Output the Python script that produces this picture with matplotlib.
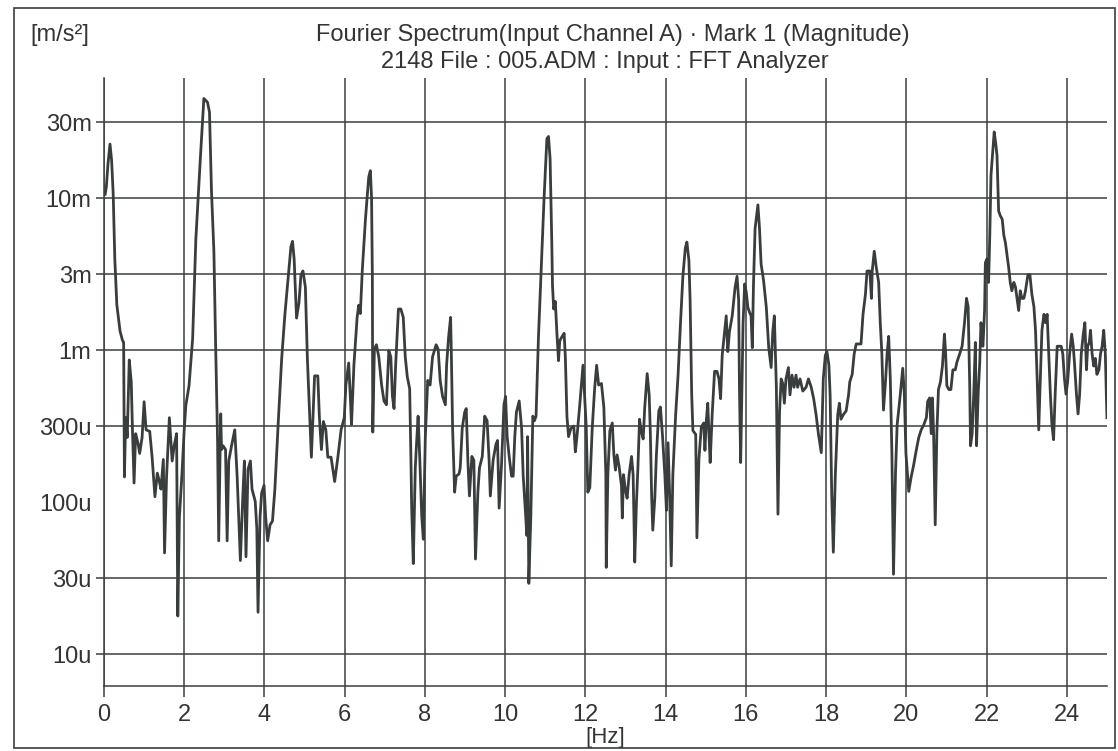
import numpy as np
import matplotlib
matplotlib.use("Agg")
import matplotlib.pyplot as plt
from matplotlib.ticker import NullLocator
from matplotlib.patches import Rectangle

# Fourier spectrum magnitude, level in dB re 1 um/s^2
freq_hz = [
    0.03, 0.06, 0.10, 0.15, 0.19, 0.23, 0.27, 0.32, 0.40, 0.46, 0.49, 0.51, 0.54, 0.58, 0.63,
    0.68, 0.71, 0.75, 0.79, 0.85, 0.89, 0.95, 1.00, 1.05, 1.14, 1.20, 1.27, 1.33, 1.38, 1.42,
    1.48, 1.51, 1.56, 1.63, 1.70, 1.75, 1.81, 1.84, 1.88, 1.94, 2.00, 2.04, 2.12, 2.21, 2.29,
    2.40, 2.49, 2.58, 2.63, 2.68, 2.74, 2.78, 2.83, 2.86, 2.91, 2.93, 2.97, 3.03, 3.07, 3.11,
    3.18, 3.26, 3.32, 3.40, 3.46, 3.50, 3.54, 3.59, 3.65, 3.69, 3.77, 3.81, 3.84, 3.89, 3.93,
    3.99, 4.03, 4.08, 4.14, 4.20, 4.26, 4.35, 4.43, 4.51, 4.59, 4.66, 4.70, 4.74, 4.80, 4.86,
    4.91, 4.96, 5.02, 5.07, 5.13, 5.17, 5.21, 5.25, 5.33, 5.37, 5.42, 5.47, 5.53, 5.58, 5.66,
    5.75, 5.83, 5.91, 5.99,
    6.03, 6.10, 6.14, 6.17, 6.23, 6.31, 6.35, 6.39, 6.44, 6.52, 6.60, 6.64, 6.67, 6.69, 6.70,
    6.74, 6.79, 6.85, 6.92, 6.98, 7.04, 7.10, 7.15, 7.19, 7.23, 7.27, 7.34, 7.40, 7.46, 7.51,
    7.56, 7.62, 7.65, 7.67, 7.71, 7.76, 7.79, 7.83, 7.87, 7.92, 7.96, 8.01, 8.07, 8.13, 8.19,
    8.28, 8.33, 8.38, 8.44, 8.51, 8.54, 8.59, 8.64, 8.66, 8.69, 8.74, 8.78, 8.85, 8.88, 8.93,
    8.99, 9.03, 9.07, 9.11, 9.17, 9.22, 9.26, 9.32, 9.36, 9.43, 9.49, 9.55, 9.60, 9.63, 9.70,
    9.77, 9.81, 9.85, 9.91, 9.97, 10.01, 10.05, 10.10, 10.16, 10.20, 10.24, 10.28, 10.35, 10.41, 10.45,
    10.50, 10.54, 10.56, 10.59, 10.64, 10.69, 10.73, 10.77, 10.83, 10.91, 10.97, 11.04, 11.08, 11.12, 11.16,
    11.18, 11.21, 11.25, 11.29, 11.33, 11.36, 11.41, 11.47, 11.50, 11.54, 11.58, 11.64, 11.71, 11.75, 11.79,
    11.86, 11.94, 11.97, 12.02, 12.06, 12.11, 12.17, 12.23, 12.28, 12.33,
    12.40, 12.46, 12.51, 12.52, 12.56, 12.61, 12.67, 12.71, 12.75, 12.79, 12.84, 12.90, 12.92, 12.95, 13.00,
    13.04, 13.09, 13.15, 13.19, 13.23, 13.27, 13.31, 13.35, 13.39, 13.44, 13.48, 13.54, 13.59, 13.62, 13.65,
    13.68, 13.73, 13.77, 13.83, 13.87, 13.92, 13.98, 14.02, 14.06, 14.10, 14.14, 14.18, 14.25, 14.31, 14.37,
    14.43, 14.49, 14.53, 14.58, 14.61, 14.65, 14.68, 14.75, 14.78, 14.83, 14.89, 14.95, 14.98, 15.01, 15.05,
    15.08, 15.11, 15.16, 15.22, 15.28, 15.33, 15.37, 15.41, 15.47, 15.51, 15.55, 15.59, 15.66, 15.73, 15.78,
    15.82, 15.84, 15.87, 15.90, 15.93, 15.97, 16.01, 16.05, 16.09, 16.13, 16.16, 16.19, 16.23, 16.30, 16.34,
    16.38, 16.44, 16.51, 16.57, 16.63, 16.67, 16.71, 16.76, 16.80, 16.84, 16.88, 16.92, 16.96, 17.00, 17.06,
    17.10, 17.15, 17.20, 17.25, 17.29, 17.35, 17.42, 17.50, 17.56, 17.63, 17.69, 17.75, 17.81, 17.88, 17.93,
    17.98, 18.02, 18.07, 18.10, 18.14, 18.18, 18.23, 18.29, 18.33, 18.37, 18.43, 18.50, 18.56,
    18.59, 18.65, 18.70, 18.75, 18.81, 18.87, 18.92, 18.98, 19.02, 19.09, 19.13, 19.15, 19.20, 19.25, 19.31,
    19.35, 19.39, 19.43, 19.48, 19.52, 19.56, 19.60, 19.64, 19.68, 19.73, 19.77, 19.81, 19.85, 19.91, 19.95,
    19.99, 20.06, 20.12, 20.18, 20.25, 20.31, 20.37, 20.43, 20.50, 20.53, 20.58, 20.62, 20.65, 20.68, 20.72,
    20.76, 20.80, 20.85, 20.90, 20.95, 20.98, 21.01, 21.06, 21.11, 21.16, 21.22, 21.26, 21.33, 21.39, 21.45,
    21.50, 21.54, 21.58, 21.60, 21.64, 21.68, 21.72, 21.75, 21.79, 21.83, 21.86, 21.91, 21.95, 21.97, 22.01,
    22.05, 22.08, 22.11, 22.16, 22.19, 22.23, 22.26, 22.30, 22.34, 22.39, 22.43, 22.47, 22.51, 22.55, 22.59,
    22.63, 22.68, 22.72, 22.76, 22.80, 22.84, 22.88, 22.93, 22.97, 23.03, 23.08, 23.13, 23.18, 23.22, 23.26,
    23.30, 23.34, 23.38, 23.43, 23.47, 23.51, 23.55, 23.59, 23.63, 23.67, 23.71, 23.76, 23.80, 23.86, 23.90,
    23.94, 23.98, 24.02, 24.07, 24.12, 24.16, 24.19, 24.24, 24.28, 24.32, 24.36, 24.41, 24.45, 24.49, 24.52,
    24.56, 24.59, 24.63, 24.67, 24.71, 24.75, 24.80, 24.84, 24.88, 24.92, 24.96, 25.00,
]

level_db = [
    80.5, 81.5, 84.5, 87.1, 85.0, 80.5, 72.0, 66.0, 62.5, 61.3, 61.0, 43.3, 51.1, 48.5, 58.7,
    55.8, 49.5, 42.5, 49.0, 47.7, 46.4, 48.5, 53.2, 49.5, 49.3, 45.9, 40.7, 43.8, 42.7, 41.7,
    45.6, 33.3, 43.3, 51.1, 45.4, 47.4, 49.0, 25.0, 38.0, 43.3, 49.5, 52.7, 55.3, 61.5, 74.6,
    85.0, 93.1, 92.6, 91.3, 80.9, 73.0, 61.5, 48.5, 34.9, 51.6, 46.9, 47.4, 46.9, 34.9, 45.4,
    47.4, 49.5, 43.3, 32.3, 40.7, 45.4, 32.8, 44.3, 45.4, 41.7, 40.1, 36.5, 25.5, 38.0, 41.2,
    42.2, 38.0, 34.9, 37.0, 37.5, 41.7, 51.1, 58.9, 64.7, 69.4, 73.6, 74.3, 72.0, 64.2, 66.2,
    69.9, 70.4, 68.3, 58.9, 51.1, 45.9, 51.1, 56.6, 56.6, 51.1, 46.9, 50.6, 49.5, 45.9, 45.9,
    42.7, 45.9, 49.5, 51.1,
    55.4, 58.3, 53.9, 50.2, 58.0, 64.3, 65.9, 64.8, 70.6, 77.4, 82.8, 83.6, 80.0, 69.5, 49.2,
    60.1, 60.7, 59.1, 55.4, 53.3, 52.8, 59.9, 59.1, 53.9, 52.3, 58.0, 65.4, 65.4, 64.3, 59.1,
    56.5, 54.9, 46.0, 39.2, 31.9, 44.5, 47.6, 51.3, 46.0, 38.2, 35.1, 48.6, 56.0, 55.4, 59.1,
    60.7, 60.1, 56.0, 53.9, 52.8, 58.0, 61.7, 64.3, 59.1, 49.7, 41.3, 43.4, 43.7, 44.5, 49.7,
    51.8, 52.3, 45.5, 40.8, 46.0, 45.5, 32.5, 41.3, 44.5, 46.0, 51.3, 50.7, 45.5, 40.8, 45.5,
    47.6, 48.1, 39.2, 45.0, 52.8, 53.9, 48.6, 46.0, 43.4, 43.4, 48.6, 51.8, 53.3, 49.7, 43.4,
    39.2, 35.6, 48.6, 29.3, 38.2, 51.3, 50.7, 51.3, 61.7, 72.1, 80.0, 87.8, 88.1, 85.2, 74.8,
    68.5, 65.4, 66.4, 62.2, 58.6, 61.2, 61.7, 62.2, 59.1, 51.3, 48.6, 49.7, 50.0, 46.6, 48.6,
    52.8, 58.0, 54.9, 50.0, 41.3, 41.9, 49.7, 54.9, 58.0, 55.4,
    55.6, 52.5, 43.6, 31.4, 43.6, 49.4, 50.4, 46.2, 44.2, 46.2, 44.7, 42.1, 37.9, 43.6, 41.5,
    40.5, 43.6, 46.0, 43.6, 32.1, 39.5, 44.7, 50.9, 49.4, 48.3, 52.5, 56.9, 54.1, 48.9, 41.0,
    36.3, 40.5, 46.2, 52.0, 52.5, 48.9, 43.6, 38.9, 47.8, 41.0, 31.6, 43.6, 51.5, 56.7, 63.5,
    69.7, 73.4, 74.2, 71.8, 66.6, 54.1, 49.4, 48.9, 35.3, 45.7, 49.9, 50.4, 46.8, 50.4, 53.0,
    48.9, 45.2, 51.5, 57.2, 57.2, 56.2, 53.6, 59.3, 62.4, 64.5, 59.8, 62.4, 64.5, 68.2, 69.7,
    66.6, 55.1, 45.2, 54.1, 63.5, 68.7, 67.6, 65.6, 65.0, 64.5, 60.3, 68.7, 76.0, 79.1, 76.0,
    71.3, 69.2, 65.6, 60.3, 57.7, 62.4, 64.5, 55.1, 38.4, 52.0, 56.2, 55.6, 53.0, 56.2, 57.7,
    54.1, 56.7, 55.1, 56.7, 55.1, 56.2, 54.6, 55.1, 56.2, 55.1, 53.6, 51.5, 48.9, 46.5, 56.2,
    59.3, 59.8, 58.0, 54.1, 41.0, 33.4, 43.6, 51.5, 53.0, 50.9, 51.5, 52.0, 54.1,
    55.8, 56.8, 59.5, 60.8, 60.8, 60.8, 64.7, 67.3, 70.4, 70.4, 66.8, 70.4, 73.0, 70.9, 68.9,
    63.6, 59.5, 52.1, 55.8, 59.5, 61.8, 56.3, 46.4, 30.5, 43.8, 50.1, 52.1, 54.2, 57.6, 54.2,
    46.4, 41.4, 43.3, 44.8, 46.9, 48.5, 49.5, 50.1, 51.1, 53.2, 53.7, 49.0, 53.7, 49.0, 37.0,
    49.0, 54.8, 55.8, 57.9, 62.1, 59.5, 55.3, 54.8, 54.8, 57.4, 57.4, 58.4, 59.5, 60.5, 63.6,
    66.8, 65.7, 55.3, 47.4, 49.0, 54.2, 61.0, 47.4, 54.2, 58.4, 63.6, 60.5, 65.2, 71.5, 72.0,
    68.9, 75.1, 83.0, 86.6, 88.7, 87.1, 85.6, 78.3, 77.7, 77.2, 75.1, 74.1, 72.5, 70.9, 68.9,
    67.8, 68.9, 68.3, 66.8, 65.2, 67.8, 66.8, 66.8, 67.8, 69.9, 69.9, 67.3, 65.7, 62.6, 56.3,
    49.5, 56.3, 62.6, 64.7, 63.6, 64.7, 59.5, 54.2, 50.1, 48.2, 54.2, 60.5, 60.5, 60.5, 59.5,
    56.3, 54.2, 55.8, 59.5, 62.1, 60.5, 58.4, 54.2, 51.6, 54.2, 59.5, 62.1, 63.6, 57.4, 60.5,
    61.0, 62.6, 59.5, 57.9, 58.9, 56.8, 57.4, 59.5, 60.5, 62.6, 59.5, 51.1,
]

ytick_values = [1e-5, 10 ** -4.5, 1e-4, 10 ** -3.5, 1e-3, 10 ** -2.5, 1e-2, 10 ** -1.5]
ytick_labels = ["10u", "30u", "100u", "300u", "1m", "3m", "10m", "30m"]
xtick_values = list(range(0, 25, 2))

title_line1 = "Fourier Spectrum(Input Channel A) \u00b7 Mark 1 (Magnitude)"
title_line2 = "2148 File : 005.ADM : Input : FFT Analyzer"
unit_label = "[m/s\u00b2]"
freq_label = "[Hz]"

# convert dB re 1 um/s^2 to m/s^2
magnitude = 1e-6 * 10 ** (np.asarray(level_db) / 20.0)

plt.rcParams["font.family"] = ["Liberation Sans", "DejaVu Sans"]
ink = "#3b3e3f"
text_ink = "#333535"
fs = 17

fig = plt.figure(figsize=(11.18, 7.51), dpi=100)
fig.patch.set_facecolor("white")
ax = fig.add_axes([0.0930, 0.0866, 0.8971, 0.8096])

ax.set_yscale("log")
ax.plot(freq_hz, magnitude, color="#3a3d3e", lw=2.0, solid_joinstyle="round", zorder=3)

ax.set_xlim(0, 25)
ax.set_ylim(10 ** -5.21, 10 ** -1.21)
ax.set_xticks(xtick_values)
ax.set_yticks(ytick_values, ytick_labels)
ax.yaxis.set_minor_locator(NullLocator())
ax.xaxis.set_minor_locator(NullLocator())

ax.grid(True, color=ink, lw=1.1, zorder=1)
for name in ("top", "right"):
    ax.spines[name].set_visible(False)
for name in ("bottom", "left"):
    ax.spines[name].set_color(ink)
    ax.spines[name].set_linewidth(1.1)

ax.tick_params(axis="x", direction="out", length=8, width=1.1, color=ink,
               pad=5, labelsize=fs, labelcolor=text_ink)
ax.tick_params(axis="y", direction="out", length=6, width=1.1, color=ink,
               pad=3, labelsize=fs, labelcolor=text_ink)

# the 100u level carries a label only
for tick, lab in zip(ax.yaxis.get_major_ticks(), ytick_labels):
    if lab == "100u":
        tick.gridline.set_visible(False)
        tick.tick1line.set_visible(False)

ax.set_xlabel(freq_label, fontsize=16, color=text_ink, labelpad=1)

fig.text(0.548, 0.9534, title_line1, ha="center", va="center", fontsize=fs, color=text_ink)
fig.text(0.541, 0.9174, title_line2, ha="center", va="center", fontsize=fs, color=text_ink)
fig.text(0.027, 0.9534, unit_label, ha="left", va="center", fontsize=fs, color=text_ink)

fig.add_artist(Rectangle((0.0125, 0.004), 0.9848, 0.9854, transform=fig.transFigure,
                         fill=False, ec=ink, lw=1.2))

fig.savefig("out.png", dpi=100)
